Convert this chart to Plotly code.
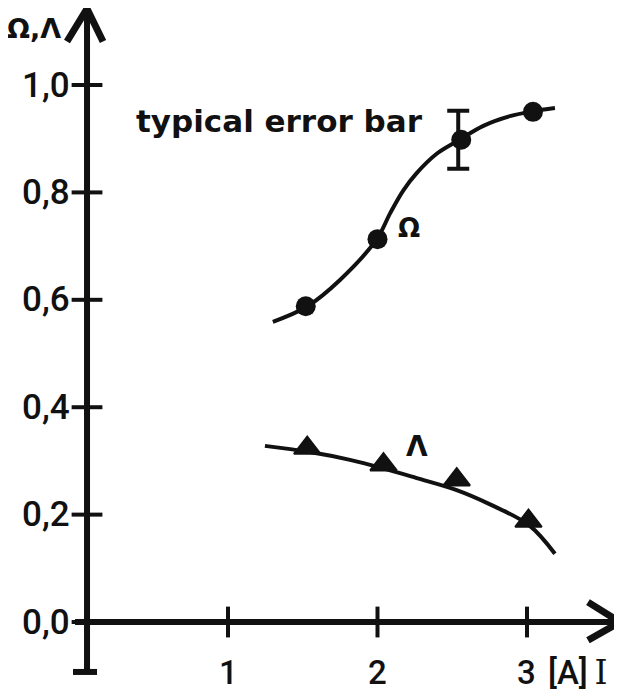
import plotly.graph_objects as go

# ---- data ----
omega_x = [1.52, 2.00, 2.56, 3.04]
omega_y = [0.588, 0.713, 0.898, 0.950]

lambda_x = [1.53, 2.04, 2.53, 3.01]
lambda_y = [0.324, 0.293, 0.265, 0.188]

omega_fit_x = [1.30, 1.526, 1.749, 1.995, 2.084, 2.173, 2.262, 2.396, 2.530, 2.708, 2.886, 3.038, 3.187]
omega_fit_y = [0.559, 0.587, 0.637, 0.713, 0.761, 0.804, 0.836, 0.872, 0.895, 0.924, 0.942, 0.951, 0.957]

lambda_fit_x = [1.247, 1.537, 1.816, 2.039, 2.262, 2.525, 2.753, 3.015, 3.187]
lambda_fit_y = [0.328, 0.317, 0.302, 0.286, 0.268, 0.246, 0.219, 0.180, 0.127]

err_x = [2.54]
err_y = [0.898]
err_half = [0.054]

x_ticks = [1, 2, 3]
x_tick_labels = ["1", "2", "3"]
y_ticks = [0.0, 0.2, 0.4, 0.6, 0.8, 1.0]
y_tick_labels = ["0,0", "0,2", "0,4", "0,6", "0,8", "1,0"]

# axis geometry (data units)
Y_AXIS_X = 0.057
X_AXIS_END = 3.622
Y_AXIS_TOP = 1.142
Y_AXIS_BOTTOM = -0.093

INK = "#111111"
FONT = "DejaVu Sans"
NUM_FONT = dict(family="Roboto", size=35, color=INK, weight=500)
XNUM_FONT = dict(family="Roboto", size=33, color=INK, weight=500)
LBL_Y = -0.094

fig = go.Figure()

# axes lines
fig.add_trace(go.Scatter(x=[-0.023, X_AXIS_END], y=[0, 0], mode="lines",
                         line=dict(color=INK, width=6), hoverinfo="skip"))
fig.add_trace(go.Scatter(x=[Y_AXIS_X, Y_AXIS_X], y=[Y_AXIS_BOTTOM, Y_AXIS_TOP], mode="lines",
                         line=dict(color=INK, width=6), hoverinfo="skip"))
# bottom cap of y axis
fig.add_trace(go.Scatter(x=[-0.037, 0.124], y=[Y_AXIS_BOTTOM, Y_AXIS_BOTTOM], mode="lines",
                         line=dict(color=INK, width=6), hoverinfo="skip"))
# arrowheads
fig.add_trace(go.Scatter(x=[-0.077, Y_AXIS_X, 0.164], y=[1.081, Y_AXIS_TOP, 1.081], mode="lines",
                         line=dict(color=INK, width=7), hoverinfo="skip"))
fig.add_trace(go.Scatter(x=[3.408, X_AXIS_END, 3.408], y=[0.037, 0, -0.034], mode="lines",
                         line=dict(color=INK, width=7), hoverinfo="skip"))

# tick marks crossing the axes
fig.add_trace(go.Scatter(x=[Y_AXIS_X] * len(y_ticks), y=y_ticks, mode="markers",
                         marker=dict(symbol="line-ew-open", size=22, color=INK,
                                     line=dict(color=INK, width=4)), hoverinfo="skip"))
fig.add_trace(go.Scatter(x=x_ticks, y=[0] * len(x_ticks), mode="markers",
                         marker=dict(symbol="line-ns-open", size=22, color=INK,
                                     line=dict(color=INK, width=4)), hoverinfo="skip"))

# fitted curves
fig.add_trace(go.Scatter(x=omega_fit_x, y=omega_fit_y, mode="lines", line_shape="spline",
                         line=dict(color=INK, width=4), hoverinfo="skip"))
fig.add_trace(go.Scatter(x=lambda_fit_x, y=lambda_fit_y, mode="lines", line_shape="spline",
                         line=dict(color=INK, width=4), hoverinfo="skip"))

# typical error bar
fig.add_trace(go.Scatter(x=err_x, y=err_y, mode="markers",
                         marker=dict(size=1, color="rgba(0,0,0,0)"),
                         error_y=dict(type="data", array=err_half, visible=True,
                                      color=INK, thickness=4, width=11),
                         hoverinfo="skip"))

# data points
fig.add_trace(go.Scatter(x=omega_x, y=omega_y, mode="markers",
                         marker=dict(symbol="circle", size=20, color=INK), name="Ω"))
fig.add_trace(go.Scatter(x=lambda_x, y=lambda_y, mode="markers",
                         marker=dict(symbol="triangle-up", size=23, color=INK,
                                     line=dict(color=INK, width=2)), name="Λ"))

annotations = []
for v, t in zip(y_ticks, y_tick_labels):
    annotations.append(dict(x=-0.045, y=v, text=t, xanchor="right", yanchor="middle",
                            showarrow=False, font=NUM_FONT))
for v, t in zip(x_ticks, x_tick_labels):
    annotations.append(dict(x=v, y=LBL_Y, text=t, xanchor="center", yanchor="middle",
                            showarrow=False, font=XNUM_FONT))
annotations += [
    dict(x=3.125, y=LBL_Y, text="[A]<span style='font-family:DejaVu Serif'>\u2009I</span>",
         xanchor="left", yanchor="middle", showarrow=False, font=XNUM_FONT),
    dict(x=-0.298, y=1.106, text="Ω,Λ", xanchor="center", yanchor="middle", showarrow=False,
         font=dict(family=FONT, size=27, color=INK, weight="bold")),
    dict(x=0.372, y=0.933, text="typical error bar", xanchor="left", yanchor="middle",
         showarrow=False, font=dict(family=FONT, size=31, color=INK, weight="bold")),
    dict(x=2.211, y=0.734, text="Ω", xanchor="center", yanchor="middle", showarrow=False,
         font=dict(family=FONT, size=26, color=INK, weight="bold")),
    dict(x=2.264, y=0.326, text="Λ", xanchor="center", yanchor="middle", showarrow=False,
         font=dict(family=FONT, size=28, color=INK, weight="bold")),
]

# page has an 8px body margin: figure covers window pixels 8..622 x 8..695
fig.update_layout(
    width=614, height=687,
    margin=dict(l=0, r=0, t=0, b=0),
    paper_bgcolor="white", plot_bgcolor="white",
    showlegend=False,
    xaxis=dict(range=[-0.4716, 3.6355], visible=False, fixedrange=True),
    yaxis=dict(range=[-0.1359, 1.1434], visible=False, fixedrange=True),
    annotations=annotations,
)

fig.write_html("out.html")
